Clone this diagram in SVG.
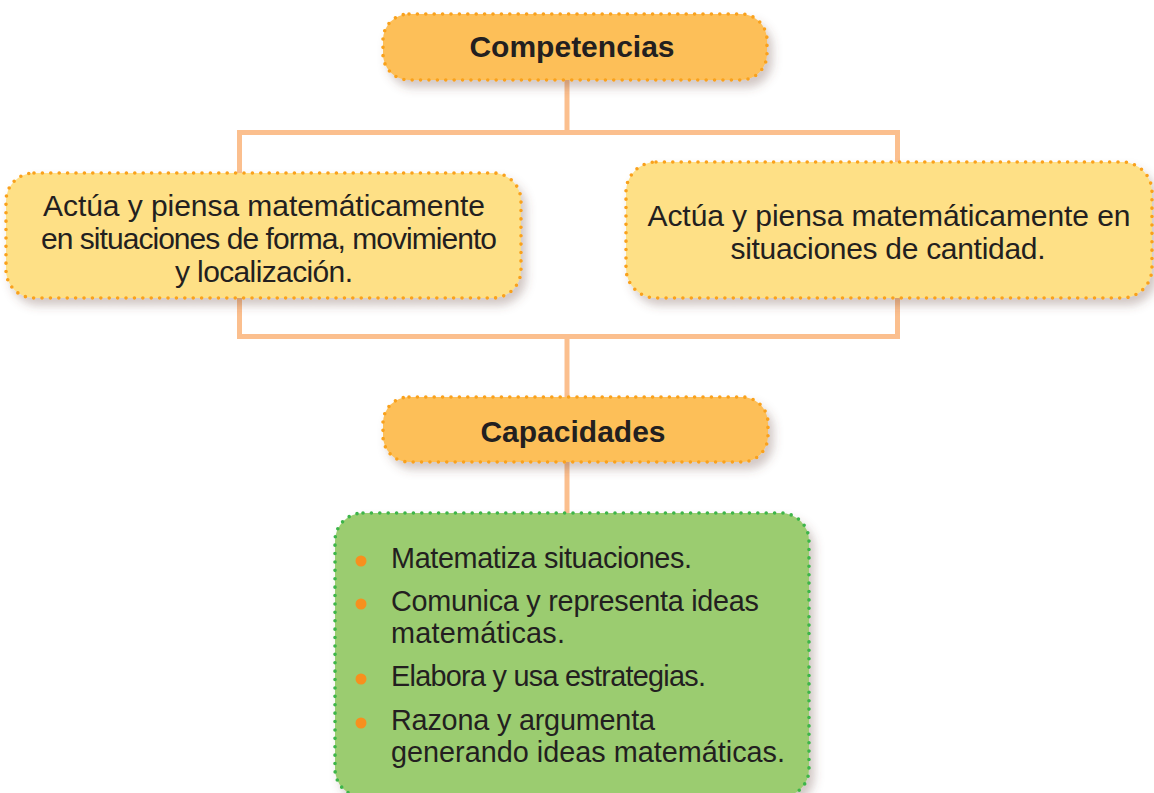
<svg xmlns="http://www.w3.org/2000/svg" width="1154" height="793" viewBox="0 0 1154 793">
<defs>
<filter id="sh" x="-10%" y="-20%" width="125%" height="150%">
<feDropShadow dx="5" dy="7" stdDeviation="5" flood-color="#6b4a40" flood-opacity="0.3"/>
</filter>
</defs>
<style>
.conn{fill:none;stroke:#FBBF8E;stroke-width:5;stroke-linejoin:miter}
.head{fill:#FDBF59;stroke:#F9A11B;stroke-width:3.6;stroke-dasharray:0 8.4;stroke-linecap:round;filter:url(#sh)}
.yel{fill:#FEE086;stroke:#F9A11B;stroke-width:3.6;stroke-dasharray:0 8.4;stroke-linecap:round;filter:url(#sh)}
.grn{fill:#9BCC6F;stroke:#3DB54A;stroke-width:3.6;stroke-dasharray:0 8.4;stroke-linecap:round;filter:url(#sh)}
.ht{font-family:"Liberation Sans",Arial,sans-serif;font-weight:bold;font-size:30px;fill:#231F20;text-anchor:middle}
.bt{font-family:"Liberation Sans",Arial,sans-serif;font-size:30px;fill:#231F20;text-anchor:middle}
.gt{font-family:"Liberation Sans",Arial,sans-serif;font-size:28.8px;fill:#231F20}
.dot{fill:#F7901E}
</style>
<g id="connectors">
<polyline class="conn" points="567,70 567,132.5"/>
<polyline class="conn" points="239.5,180 239.5,132.5 897.5,132.5 897.5,170"/>
<polyline class="conn" points="239.5,290 239.5,336.5 897.5,336.5 897.5,290"/>
<polyline class="conn" points="567,336.5 567,405"/>
<polyline class="conn" points="567,455 567,520"/>
</g>
<g id="competencias">
<rect class="head" x="383" y="14" width="384" height="66" rx="26"/>
<text class="ht" x="572" y="57">Competencias</text>
</g>
<g id="forma">
<rect class="yel" x="6" y="173" width="515" height="125" rx="28"/>
<text class="bt" x="264" y="216" textLength="442" lengthAdjust="spacing">Actúa y piensa matemáticamente</text>
<text class="bt" x="269" y="249" textLength="456" lengthAdjust="spacing">en situaciones de forma, movimiento</text>
<text class="bt" x="264" y="282" textLength="178" lengthAdjust="spacing">y localización.</text>
</g>
<g id="cantidad">
<rect class="yel" x="626" y="162" width="526" height="136" rx="30"/>
<text class="bt" x="889" y="226" textLength="483" lengthAdjust="spacing">Actúa y piensa matemáticamente en</text>
<text class="bt" x="888" y="259" textLength="315" lengthAdjust="spacing">situaciones de cantidad.</text>
</g>
<g id="capacidades">
<rect class="head" x="383" y="397" width="385" height="65" rx="26"/>
<text class="ht" x="573" y="442">Capacidades</text>
</g>
<g id="lista">
<rect class="grn" x="335" y="513" width="474" height="284" rx="28"/>
<circle class="dot" cx="361" cy="561" r="5.5"/>
<circle class="dot" cx="361" cy="604" r="5.5"/>
<circle class="dot" cx="361" cy="679" r="5.5"/>
<circle class="dot" cx="361" cy="723" r="5.5"/>
<text class="gt" x="391" y="568" textLength="301" lengthAdjust="spacing">Matematiza situaciones.</text>
<text class="gt" x="391" y="611" textLength="368" lengthAdjust="spacing">Comunica y representa ideas</text>
<text class="gt" x="391" y="643" textLength="174" lengthAdjust="spacing">matemáticas.</text>
<text class="gt" x="391" y="686" textLength="315" lengthAdjust="spacing">Elabora y usa estrategias.</text>
<text class="gt" x="391" y="730" textLength="264" lengthAdjust="spacing">Razona y argumenta</text>
<text class="gt" x="391" y="762" textLength="394" lengthAdjust="spacing">generando ideas matemáticas.</text>
</g>
</svg>
